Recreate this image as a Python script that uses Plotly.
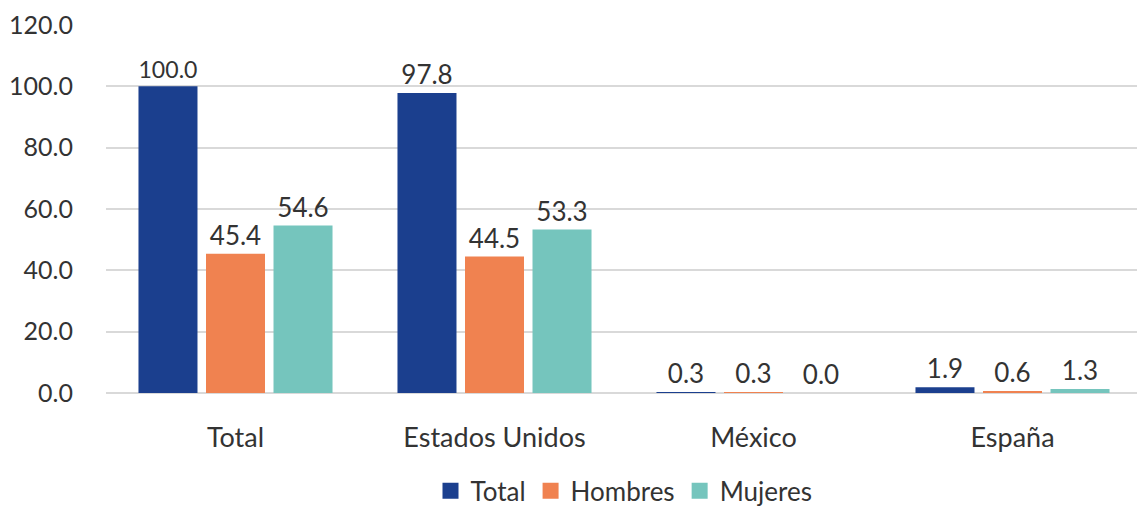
import plotly.graph_objects as go

categories = ["Total", "Estados Unidos", "México", "España"]
total = [100.0, 97.8, 0.3, 1.9]
hombres = [45.4, 44.5, 0.3, 0.6]
mujeres = [54.6, 53.3, 0.0, 1.3]
y_ticks = [0, 20, 40, 60, 80, 100, 120]

series = [("Total", total, "#1B3F8E"), ("Hombres", hombres, "#F08250"), ("Mujeres", mujeres, "#75C5BD")]

fig = go.Figure()
for name, vals, col in series:
    fig.add_trace(go.Bar(
        x=categories, y=vals, name=name, marker_color=col, marker_line_width=0,
        text=[f"{v:.1f}" for v in vals], textposition="outside",
        textfont=dict(size=26, color="#333333"), cliponaxis=False, showlegend=False,
    ))
for name, vals, col in series:
    fig.add_trace(go.Scatter(
        x=[None], y=[None], mode="markers", name=name,
        marker=dict(symbol="square", size=20, color=col), showlegend=True,
    ))

# page body has an 8px default margin; figure sized/offset to compensate
font_family = "Lato, 'Open Sans', sans-serif"
fig.update_layout(
    width=1137, height=498,
    margin=dict(l=98, r=3, t=17, b=113, autoexpand=False),
    paper_bgcolor="white", plot_bgcolor="white",
    barmode="group", bargap=0.218, bargroupgap=0.126,
    font=dict(family=font_family, size=24, color="#333333"),
    legend=dict(orientation="h", x=0.5, xanchor="center", y=-0.266, yanchor="middle",
                font=dict(size=26, color="#333333"), itemwidth=30, traceorder="normal",
                tracegroupgap=0),
    xaxis=dict(showgrid=False, showline=False, ticks="", tickfont=dict(size=27),
               ticklabelstandoff=26, automargin=False),
    yaxis=dict(range=[0, 120], tickvals=y_ticks, tickformat=".1f", showgrid=True,
               gridcolor="#D9D9D9", gridwidth=2, zeroline=True, zerolinecolor="#D9D9D9",
               zerolinewidth=2, ticks="", tickfont=dict(size=25), ticklabelstandoff=32,
               showline=False, automargin=False),
)
fig.write_html("out.html")
